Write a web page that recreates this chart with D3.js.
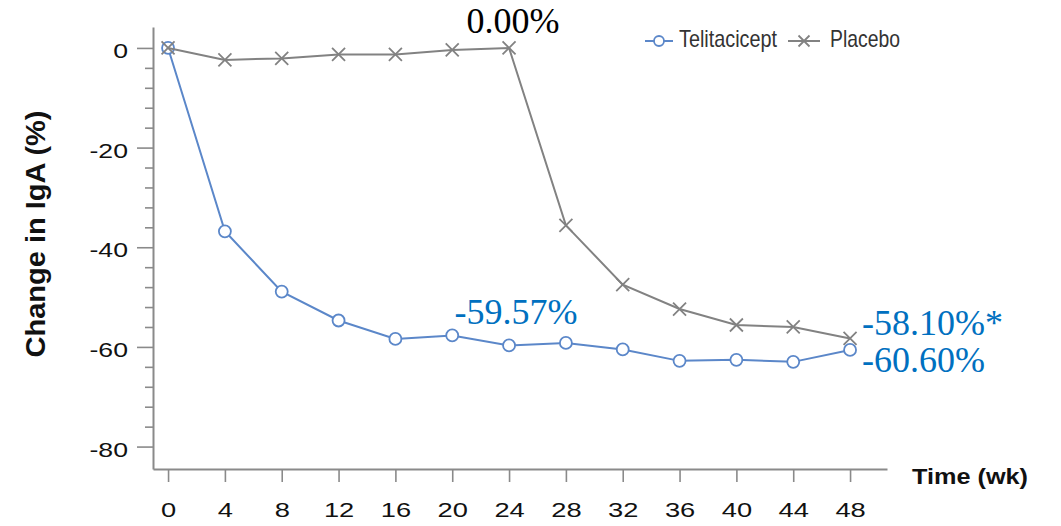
<!DOCTYPE html>
<html>
<head>
<meta charset="utf-8">
<script src="https://cdn.jsdelivr.net/npm/d3@7"></script>
<style>
  html, body { margin: 0; padding: 0; background: #fff; }
  svg { display: block; }
</style>
</head>
<body>
<svg id="chart" width="1061" height="526"></svg>
<script>
// ---- data ----
const weeks = [0, 4, 8, 12, 16, 20, 24, 28, 32, 36, 40, 44, 48];
const telitacicept = [0, -36.8, -48.9, -54.7, -58.4, -57.7, -59.7, -59.2, -60.5, -62.8, -62.6, -63.0, -60.6];
const placebo = [0, -2.4, -2.1, -1.3, -1.3, -0.4, 0, -35.6, -47.5, -52.4, -55.6, -56.0, -58.3];
const seriesNames = ["Telitacicept", "Placebo"];
const xTicks = [0, 4, 8, 12, 16, 20, 24, 28, 32, 36, 40, 44, 48];
const yTicks = [0, -20, -40, -60, -80];
const yMinorTicks = [-4, -8, -12, -16, -24, -28, -32, -36, -44, -48, -52, -56, -64, -68, -72, -76];
const annotations = [
  { text: "0.00%", week: 24, value: 0, color: "#000000", anchor: "middle", dx: 4, dy: -15 },
  { text: "-59.57%", week: 24, value: -59.57, color: "#0070C0", anchor: "middle", dx: 7, dy: -21 },
  { text: "-58.10%*", week: 48, value: -58.3, color: "#0070C0", anchor: "start", dx: 12, dy: -3 },
  { text: "-60.60%", week: 48, value: -60.6, color: "#0070C0", anchor: "start", dx: 12, dy: 22 }
];

const blue = "#5B87C9";
const gray = "#828282";
const axisColor = "#8a8a8a";
const fmt = d => String(d);

const svg = d3.select("#chart");

const x = d3.scaleLinear().domain([-1.06, 50.6]).range([153, 887]);
const y = d3.scaleLinear().domain([4.2, -84.5]).range([27, 469]);

// ---- axes ----
const yAxisMajor = d3.axisLeft(y).tickValues(yTicks).tickSize(16).tickSizeOuter(0).tickPadding(9).tickFormat(fmt);
const gy = svg.append("g").attr("transform", "translate(153,0)").call(yAxisMajor);
gy.select(".domain").attr("stroke", axisColor).attr("stroke-width", 2);
gy.selectAll(".tick line").attr("stroke", axisColor).attr("stroke-width", 1.6);
gy.selectAll(".tick text")
  .attr("x", 0).attr("dy", "0.46em")
  .attr("transform", "translate(-25,0) scale(1.3,1)")
  .attr("font-family", "'Liberation Sans', Arial, sans-serif")
  .attr("font-size", 20.5).attr("fill", "#111");

const yAxisMinor = d3.axisLeft(y).tickValues(yMinorTicks).tickSize(8).tickSizeOuter(0).tickFormat("");
const gym = svg.append("g").attr("transform", "translate(153,0)").call(yAxisMinor);
gym.select(".domain").remove();
gym.selectAll(".tick line").attr("stroke", axisColor).attr("stroke-width", 1.6);

const xAxis = d3.axisBottom(x).tickValues(xTicks).tickSize(13).tickSizeOuter(0).tickFormat(fmt);
const gx = svg.append("g").attr("transform", "translate(0,469)").call(xAxis);
gx.select(".domain").attr("stroke", axisColor).attr("stroke-width", 2);
gx.selectAll(".tick line").attr("stroke", axisColor).attr("stroke-width", 1.6);
gx.selectAll(".tick text")
  .attr("y", 48).attr("dy", 0)
  .attr("transform", "scale(1.3,1)")
  .attr("font-family", "'Liberation Sans', Arial, sans-serif")
  .attr("font-size", 21).attr("fill", "#111");

// axis titles
svg.append("text")
  .attr("transform", "translate(45,234) rotate(-90)")
  .attr("text-anchor", "middle")
  .attr("font-family", "'Liberation Sans', Arial, sans-serif")
  .attr("font-weight", "bold").attr("font-size", 28).attr("fill", "#111")
  .attr("textLength", 247).attr("lengthAdjust", "spacingAndGlyphs")
  .text("Change in IgA (%)");

svg.append("text")
  .attr("x", 912).attr("y", 484)
  .attr("font-family", "'Liberation Sans', Arial, sans-serif")
  .attr("font-weight", "bold").attr("font-size", 22).attr("fill", "#111")
  .attr("textLength", 116).attr("lengthAdjust", "spacingAndGlyphs")
  .text("Time (wk)");

// ---- lines ----
const line = d3.line().x(d => x(d[0])).y(d => y(d[1]));
const telData = weeks.map((w, i) => [w, telitacicept[i]]);
const plaData = weeks.map((w, i) => [w, placebo[i]]);

svg.append("path").datum(telData).attr("d", line)
  .attr("fill", "none").attr("stroke", blue).attr("stroke-width", 2);
svg.selectAll("circle.tel").data(telData).join("circle").attr("class", "tel")
  .attr("cx", d => x(d[0])).attr("cy", d => y(d[1])).attr("r", 6)
  .attr("fill", "#fff").attr("stroke", blue).attr("stroke-width", 1.8);

svg.append("path").datum(plaData).attr("d", line)
  .attr("fill", "none").attr("stroke", gray).attr("stroke-width", 2);
const xs = 6.5;
svg.selectAll("path.pla").data(plaData).join("path").attr("class", "pla")
  .attr("d", d => {
    const cx = x(d[0]), cy = y(d[1]);
    return `M${cx - xs},${cy - xs}L${cx + xs},${cy + xs}M${cx - xs},${cy + xs}L${cx + xs},${cy - xs}`;
  })
  .attr("fill", "none").attr("stroke", gray).attr("stroke-width", 1.8);

// ---- annotations ----
svg.selectAll("text.ann").data(annotations).join("text").attr("class", "ann")
  .attr("x", d => x(d.week) + d.dx)
  .attr("y", d => y(d.value) + d.dy)
  .attr("text-anchor", d => d.anchor)
  .attr("font-family", "'Liberation Serif', 'Times New Roman', serif")
  .attr("font-size", 36)
  .attr("fill", d => d.color)
  .text(d => d.text);

// ---- legend ----
const legend = svg.append("g").attr("font-family", "'Liberation Sans', Arial, sans-serif").attr("font-size", 24).attr("fill", "#333");
// Telitacicept
legend.append("line").attr("x1", 645).attr("x2", 673).attr("y1", 41).attr("y2", 41).attr("stroke", blue).attr("stroke-width", 2);
legend.append("circle").attr("cx", 659).attr("cy", 41).attr("r", 5).attr("fill", "#fff").attr("stroke", blue).attr("stroke-width", 1.8);
legend.append("text").attr("x", 679).attr("y", 47).attr("textLength", 98).attr("lengthAdjust", "spacingAndGlyphs").text(seriesNames[0]);
// Placebo
legend.append("line").attr("x1", 788).attr("x2", 820).attr("y1", 41).attr("y2", 41).attr("stroke", gray).attr("stroke-width", 2);
const lx = 804, ly = 41, ls = 5.5;
legend.append("path").attr("d", `M${lx - ls},${ly - ls}L${lx + ls},${ly + ls}M${lx - ls},${ly + ls}L${lx + ls},${ly - ls}`)
  .attr("stroke", gray).attr("stroke-width", 1.8).attr("fill", "none");
legend.append("text").attr("x", 830).attr("y", 47).attr("textLength", 70).attr("lengthAdjust", "spacingAndGlyphs").text(seriesNames[1]);
</script>
</body>
</html>
